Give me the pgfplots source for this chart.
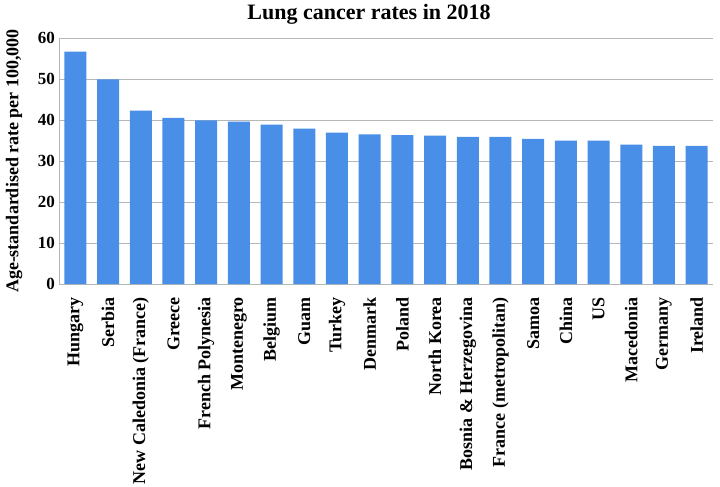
\documentclass[border=0pt]{standalone}
\usepackage{fontspec}
\setmainfont{Liberation Serif}
\usepackage{pgfplots}
\pgfplotsset{compat=1.18}
\definecolor{barblue}{HTML}{4A8FE7}
\definecolor{gridgrey}{HTML}{B4B8B8}
\begin{document}
\begin{tikzpicture}
\useasboundingbox (0,0) rectangle (720bp,487bp);
\node[font=\fontsize{22bp}{26bp}\selectfont\bfseries] at (369bp,473bp) {Lung cancer rates in 2018};
\begin{axis}[
  at={(59bp,203bp)}, anchor=south west,
  scale only axis, width=654bp, height=246bp,
  xmin=-0.5, xmax=19.5, ymin=0, ymax=60,
  ytick={0,10,...,60},
  xtick={0,...,19},
  xticklabels={Hungary,Serbia,New Caledonia (France),Greece,French Polynesia,Montenegro,Belgium,Guam,Turkey,Denmark,Poland,North Korea,Bosnia \& Herzegovina,France (metropolitan),Samoa,China,US,Macedonia,Germany,Ireland},
  axis x line*=bottom, axis y line*=left,
  axis line style={gridgrey, line width=0.8bp, -},
  ymajorgrids, grid style={gridgrey, line width=0.8bp},
  major tick length=0pt,
  /pgf/number format/assume math mode=true,
  yticklabel style={font=\fontsize{17bp}{19bp}\selectfont\bfseries, inner sep=0pt, anchor=east},
  yticklabel shift=4bp,
  xticklabel style={font=\fontsize{18bp}{20bp}\selectfont\bfseries, rotate=90, anchor=east, inner sep=0pt},
  xticklabel shift=13bp,
  ylabel={Age-standardised rate per 100,000},
  ylabel style={font=\fontsize{18bp}{20bp}\selectfont\bfseries, at={(axis description cs:-0.0688,0.5)}, anchor=center},
  clip=false,
]
\addplot[ybar, bar width=22bp, fill=barblue, draw=none] coordinates {
(0,56.7) (1,49.9) (2,42.3) (3,40.5) (4,39.9) (5,39.6) (6,38.9) (7,37.9) (8,36.9) (9,36.5)
(10,36.3) (11,36.2) (12,35.9) (13,35.9) (14,35.4) (15,35.0) (16,35.0) (17,34.0) (18,33.7) (19,33.7)
};
\end{axis}
\end{tikzpicture}
\end{document}
